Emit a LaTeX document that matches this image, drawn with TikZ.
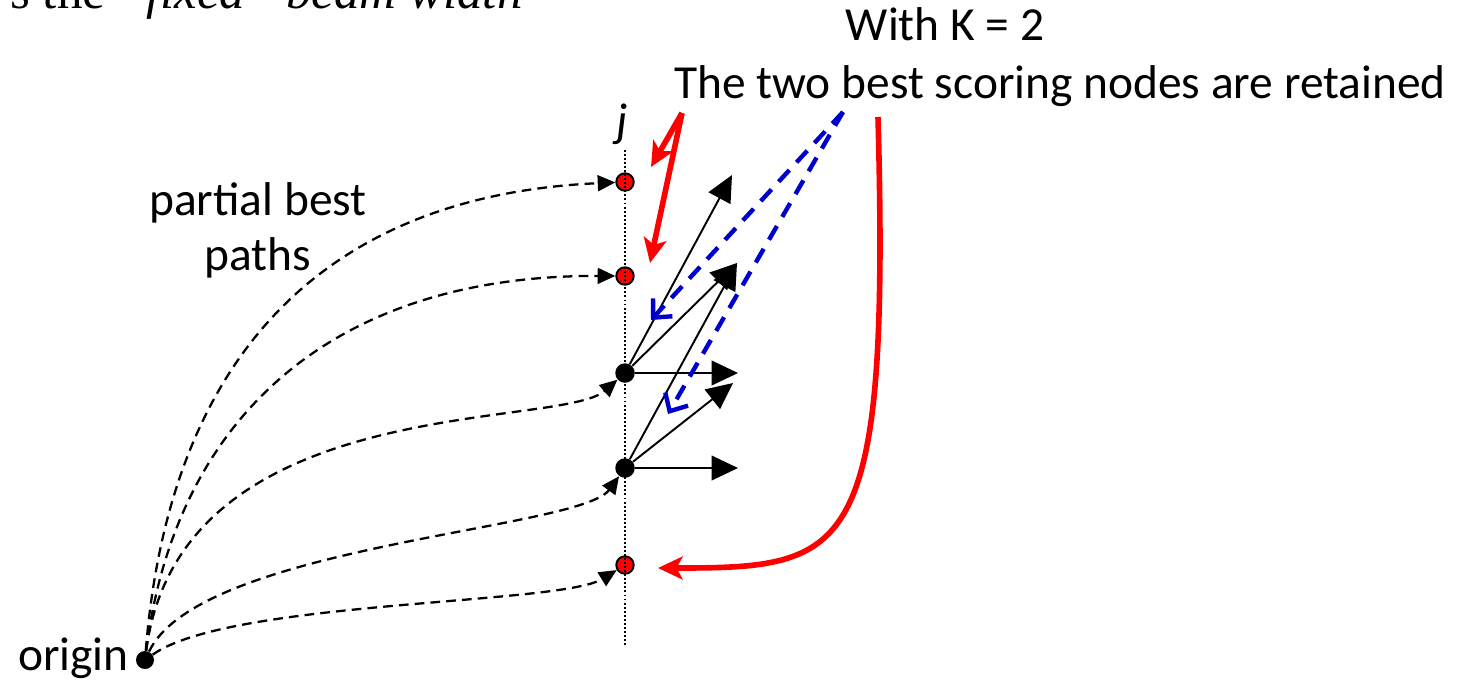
\documentclass[tikz,border=0pt]{standalone}
\usepackage{fontspec}
\setmainfont{Carlito}
\newfontfamily\slidefont{Liberation Serif}
\usetikzlibrary{arrows.meta}
\definecolor{kred}{HTML}{FF0000}
\definecolor{kblue}{HTML}{0000CC}
\definecolor{kdot}{HTML}{000000}
\tikzset{
  pbpath/.style = {draw=black, line width=1.3pt, dash pattern=on 5.5pt off 3.5pt,
                   -{Triangle[length=10pt, width=9pt]}},
  expd/.style   = {draw=black, line width=1.1pt, -{Triangle[length=15pt, width=14pt]}},
  keepr/.style  = {draw=kred, line width=3.2pt,
                   -{Stealth[length=14pt, width=13pt, inset=3.5pt]}},
  keepb/.style  = {draw=kblue, line width=2.5pt, dash pattern=on 9pt off 6pt,
                   -{Straight Barb[length=8pt, width=15pt]}},
  rdot/.style   = {circle, fill=kred, draw=black, line width=1.1pt,
                   minimum size=3.5mm, inner sep=0pt},
  bdot/.style   = {circle, fill=kdot, minimum size=3.9mm, inner sep=0pt},
  lbl/.style    = {font=\fontsize{27}{31.3}\selectfont, inner sep=0pt},
}

\begin{document}
\begin{tikzpicture}[x=0.02cm, y=-0.02cm]
  \useasboundingbox (0,0) rectangle (1466,687);
  % slide title, cut at the top
  \node[anchor=base east, inner sep=0pt, font=\slidefont\fontsize{29}{33}\selectfont]
    (title) at (523,8) {s the \textit{“fixed” beam width}};
  \node[lbl, anchor=base] (withk) at (945,40) {With K = 2};
  \node[lbl, anchor=base] (kept) at (1060,98) {The two best scoring nodes are retained};
  \node[lbl, align=center] (pbest) at (258,230) {partial best\\paths};
  \node[lbl, anchor=base] (jlab) at (622,136) {\itshape j};
  \node[lbl, anchor=base east] (olab) at (129,670) {origin};

  % stage j
  \coordinate (jtop) at (625,150);
  \coordinate (jbot) at (625,645);
  \node[rdot] (r1) at (625,182) {};
  \node[rdot] (r2) at (625,276) {};
  \node[rdot] (r3) at (625,565) {};
  \draw[line width=1.1pt, dash pattern=on 1.1pt off 1.2pt] (jtop) -- (jbot);
  \node[bdot] (u) at (625,373) {};
  \node[bdot] (l) at (625,468) {};
  \node[bdot, minimum size=3.6mm] (origin) at (145,660) {};

  % partial best paths
  \draw[pbpath] (origin) .. controls (170,350) and (330,195) .. (r1);
  \draw[pbpath] (origin) .. controls (175,420) and (330,275) .. (r2);
  \draw[pbpath] (origin) .. controls (180,390) and (560,430) .. (u);
  \draw[pbpath] (origin) .. controls (200,545) and (580,530) .. (l);
  \draw[pbpath] (origin) .. controls (230,600) and (560,605) .. (r3);

  % expansions
  \coordinate (a1) at (732,175);
  \coordinate (a2) at (737,263);
  \coordinate (a3) at (738,373);
  \coordinate (a4) at (733,383);
  \coordinate (a5) at (738,468);
  \draw[expd] (u) -- (a1);
  \draw[expd] (u) -- (a2);
  \draw[expd] (u) -- (a3);
  \draw[expd] (l) -- (a2);
  \draw[expd] (l) -- (a4);
  \draw[expd] (l) -- (a5);

  % pointers from the text
  \coordinate (rs) at (682,113);
  \coordinate (rt1) at (651,167);
  \coordinate (rt2) at (650,263);
  \coordinate (rc) at (878,117);
  \coordinate (rt3) at (658,568);
  \coordinate (bs) at (843,112);
  \coordinate (bt1) at (651,320);
  \coordinate (bt2) at (668,414);
  \draw[keepr] (rs) -- (rt1);
  \draw[keepr] (rs) -- (rt2);
  \draw[keepr] (rc) .. controls (890,560) and (850,568) .. (rt3);
  \draw[keepb] (bs) -- (bt1);
  \draw[keepb] (bs) -- (bt2);
\end{tikzpicture}
\end{document}
